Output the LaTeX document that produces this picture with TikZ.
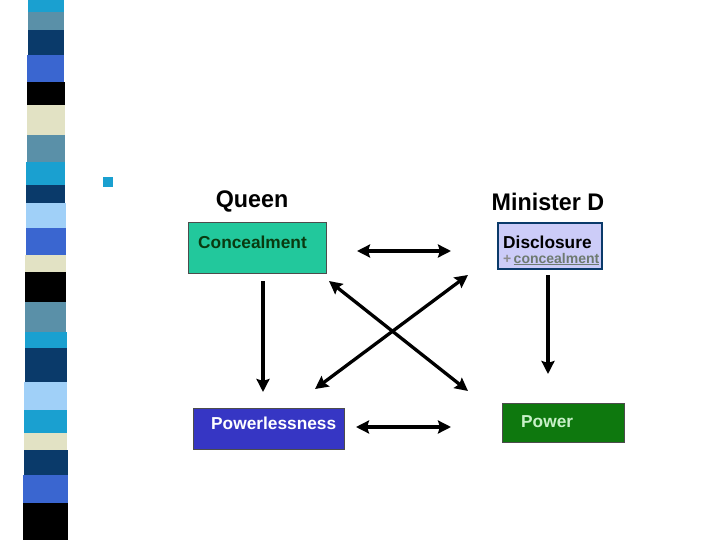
\documentclass[tikz,border=0pt]{standalone}
\usepackage{fontspec}
\setmainfont{Liberation Sans}
\usetikzlibrary{arrows.meta}
\definecolor{cA}{HTML}{1AA0D0}
\definecolor{cSteel}{HTML}{5A90A8}
\definecolor{cNavy}{HTML}{0A3A6A}
\definecolor{cRoyal}{HTML}{3A66D0}
\definecolor{cCream}{HTML}{E2E2C4}
\definecolor{cLight}{HTML}{A0D0F8}
\definecolor{teal}{HTML}{22C89C}
\definecolor{lav}{HTML}{CCCCF8}
\definecolor{pblue}{HTML}{3636C4}
\definecolor{pgreen}{HTML}{0E780E}
\definecolor{dgreen}{HTML}{0A3A10}
\definecolor{lgreen}{HTML}{C8F0C8}
\definecolor{gconc}{HTML}{6E7A70}
\begin{document}
\begin{tikzpicture}[x=1pt,y=-1pt,
  box/.style={draw=black!70,line width=1pt,anchor=north west,inner sep=0pt},
  boxtext/.style={font=\fontsize{17.3}{19}\selectfont\bfseries,anchor=west,inner sep=0pt},
  heading/.style={font=\fontsize{24}{26}\selectfont\bfseries,xscale=0.97},
  arr/.style={line width=3.3pt,-{Stealth[length=13pt,width=13pt,inset=2pt]}},
  darr/.style={line width=3.3pt,{Stealth[length=13pt,width=13pt,inset=2pt]}-{Stealth[length=13pt,width=13pt,inset=2pt]}}]
\useasboundingbox (0,0) rectangle (720,540);
\fill[white] (0,0) rectangle (720,540);
% left stripe band
\foreach \ya/\yb/\c in {0/12/cA,12/30/cSteel,30/55/cNavy,55/82/cRoyal,82/105/black,105/135/cCream,135/162/cSteel,162/185/cA,185/203/cNavy,203/228/cLight,228/255/cRoyal,255/272/cCream,272/302/black,302/332/cSteel,332/348/cA,348/382/cNavy,382/410/cLight,410/433/cA,433/450/cCream,450/475/cNavy,475/503/cRoyal,503/540/black}{
  \fill[\c] ({28-0.01*\ya},\ya) rectangle ({64+0.008*\ya},\yb);
}
% bullet
\fill[cA] (103,177) rectangle (113,187);
% headings
\node[heading] (queen) at (252,201) {Queen};
\node[heading] (minister) at (548,202) {Minister D};
% boxes
\node[box,fill=teal,minimum width=138pt,minimum height=51pt] (conc) at (188,222) {};
\node[boxtext,text=dgreen] (conct) at (198,242) {Concealment};
\node[box,fill=lav,draw=cNavy,line width=1.6pt,minimum width=104pt,minimum height=46pt] (disc) at (497,222) {};
\node[boxtext,text=black] (disct) at (503,242) {Disclosure};
\begin{scope}
\clip (497,222) rectangle (601,268);
\node[anchor=west,text=gconc,font=\fontsize{14}{15}\selectfont\bfseries,inner sep=0pt] (dconc) at (503,259) {\textcolor{black!45}{+}\,\underline{concealment}};
\end{scope}
\node[box,fill=pblue,minimum width=151pt,minimum height=41pt] (pless) at (193,408) {};
\node[boxtext,text=white] (plesst) at (211,423) {Powerlessness};
\node[box,fill=pgreen,minimum width=122pt,minimum height=39pt] (power) at (502,403) {};
\node[boxtext,text=lgreen] (powert) at (521,422) {Power};
% connector endpoints
\coordinate (t1) at (357,251); \coordinate (t2) at (451,251);
\coordinate (b1) at (356,427); \coordinate (b2) at (451,427);
\coordinate (l1) at (263,281); \coordinate (l2) at (263,392);
\coordinate (r1) at (548,275); \coordinate (r2) at (548,374);
\coordinate (d1) at (329,281); \coordinate (d2) at (468,391);
\coordinate (e1) at (468,275); \coordinate (e2) at (315,389);
\draw[darr] (t1) -- (t2);
\draw[darr] (b1) -- (b2);
\draw[arr] (l1) -- (l2);
\draw[arr] (r1) -- (r2);
\draw[darr] (d1) -- (d2);
\draw[darr] (e1) -- (e2);
\end{tikzpicture}
\end{document}
